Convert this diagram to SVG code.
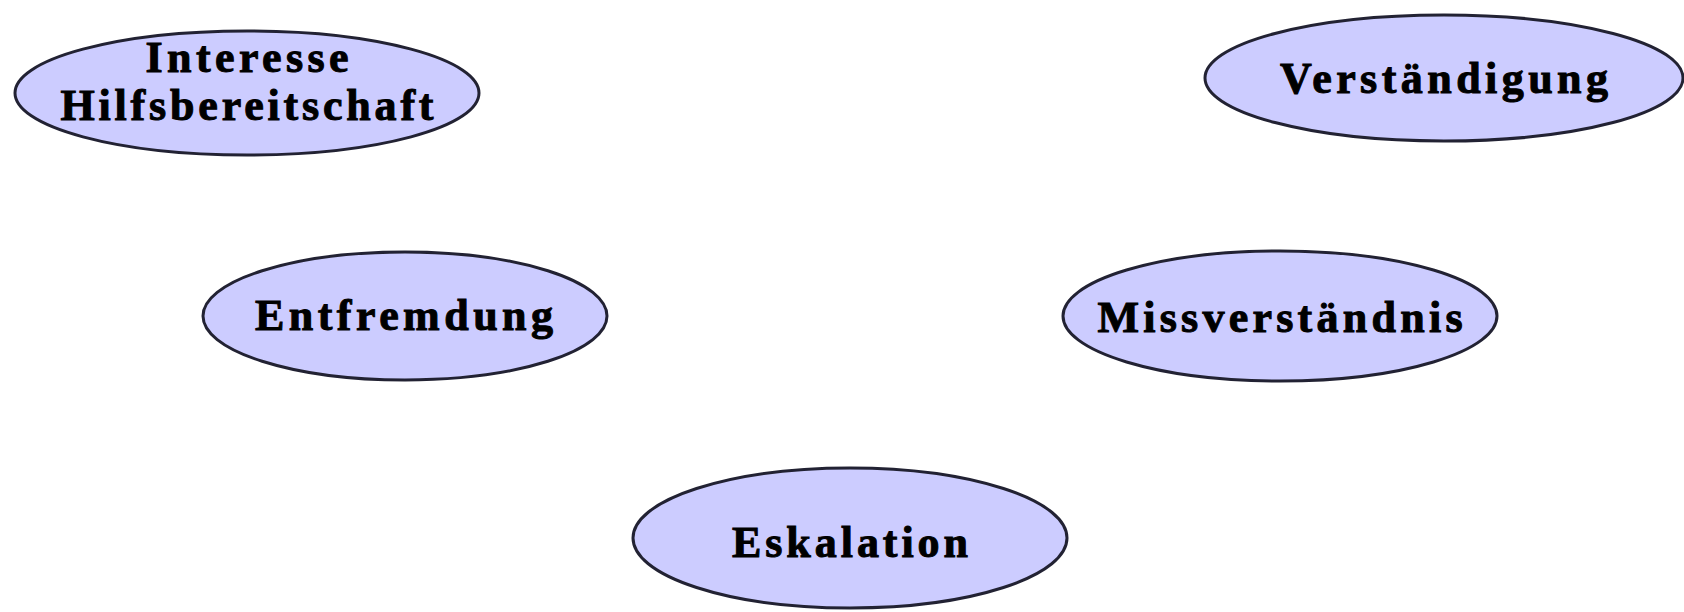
<svg xmlns="http://www.w3.org/2000/svg" width="1684" height="612" viewBox="0 0 1684 612">
<style>
.node ellipse{fill:#ccccff;stroke:#222233;stroke-width:3}
.node text{font-family:"Liberation Serif","Times New Roman",serif;font-weight:bold;font-size:44px;fill:#000;stroke:#000;stroke-width:1;text-anchor:middle}
</style>
<rect width="1684" height="612" fill="#ffffff"/>
<g id="connectors"></g>
<g id="node-interesse" class="node">
<ellipse cx="247" cy="93" rx="232" ry="62"/>
<text x="247" y="72" textLength="203" lengthAdjust="spacing">Interesse</text>
<text x="247" y="120" textLength="373" lengthAdjust="spacing">Hilfsbereitschaft</text>
</g>
<g id="node-verstaendigung" class="node">
<ellipse cx="1444" cy="78" rx="239" ry="63"/>
<text x="1444" y="93" textLength="328" lengthAdjust="spacing">Verständigung</text>
</g>
<g id="node-entfremdung" class="node">
<ellipse cx="405" cy="316" rx="202" ry="64"/>
<text x="404" y="330" textLength="298" lengthAdjust="spacing">Entfremdung</text>
</g>
<g id="node-missverstaendnis" class="node">
<ellipse cx="1280" cy="316" rx="217" ry="65"/>
<text x="1280" y="332" textLength="365" lengthAdjust="spacing">Missverständnis</text>
</g>
<g id="node-eskalation" class="node">
<ellipse cx="850" cy="538" rx="217" ry="70"/>
<text x="850" y="557" textLength="236" lengthAdjust="spacing">Eskalation</text>
</g>
</svg>
